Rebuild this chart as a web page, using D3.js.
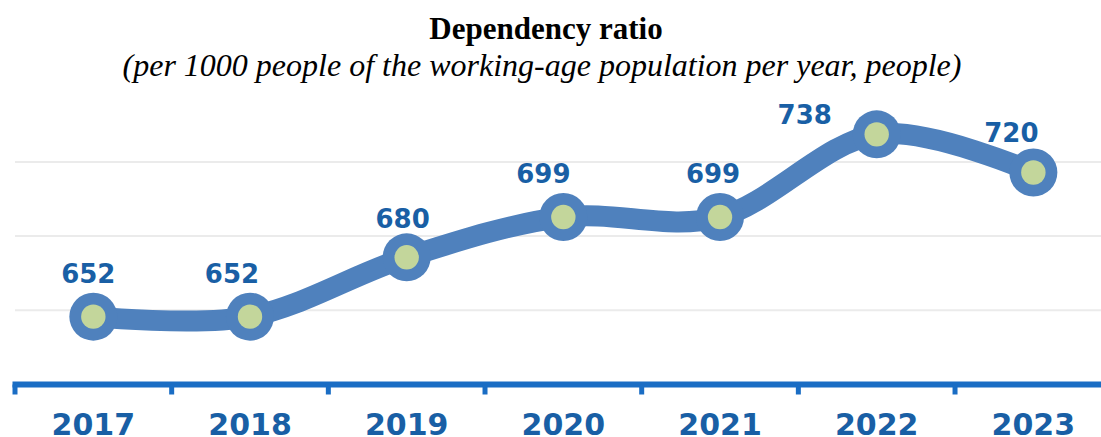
<!DOCTYPE html>
<html>
<head>
<meta charset="utf-8">
<script src="https://cdn.jsdelivr.net/npm/d3@7"></script>
<style>
  html, body { margin: 0; padding: 0; background: #ffffff; }
  svg { display: block; }
</style>
</head>
<body>
<svg id="chart" width="1101" height="437"></svg>
<script>
// Data
const years = ["2017", "2018", "2019", "2020", "2021", "2022", "2023"];
const ratios = [652, 652, 680, 699, 699, 738, 720];
const gridValues = [655, 690, 725];

// Label placement nudges (dx, dy relative to each marker centre)
const labelNudge = [[-5, -34], [-18, -34], [-4, -29], [-20, -34], [-7, -34], [-72, -10], [-22, -31]];

const svg = d3.select("#chart");
const W = 1101, H = 437;

const x = d3.scaleBand().domain(years).range([15, 1111.7]).padding(0);
const y = d3.scaleLinear().domain([620, 760]).range([384.5, 87.7]);
const cx = d => x(d) + x.bandwidth() / 2;

// Title
svg.append("text")
  .attr("x", 546).attr("y", 39)
  .attr("text-anchor", "middle")
  .style("font-family", "'Liberation Serif', 'Times New Roman', serif")
  .style("font-weight", "bold")
  .style("font-size", "31px")
  .attr("fill", "#000")
  .text("Dependency ratio");

svg.append("text")
  .attr("x", 542).attr("y", 76)
  .attr("text-anchor", "middle")
  .style("font-family", "'Liberation Serif', 'Times New Roman', serif")
  .style("font-style", "italic")
  .style("font-size", "32px")
  .attr("fill", "#000")
  .text("(per 1000 people of the working-age population per year, people)");

// Gridlines
svg.append("g").selectAll("line")
  .data(gridValues)
  .join("line")
  .attr("x1", 15).attr("x2", W)
  .attr("y1", d => y(d)).attr("y2", d => y(d))
  .attr("stroke", "#ebebeb")
  .attr("stroke-width", 2);

// Category axis
const axisColor = "#1a6dc4";
const axis = d3.axisBottom(x)
  .tickSize(0)
  .tickPadding(0);
const gAxis = svg.append("g").attr("transform", `translate(0,${y(620)})`).call(axis);
gAxis.select(".domain").remove();
gAxis.selectAll(".tick line").remove();
gAxis.selectAll(".tick text")
  .attr("y", 50)
  .attr("dy", null)
  .style("font-family", "'DejaVu Sans', Verdana, sans-serif")
  .style("font-weight", "bold")
  .style("font-size", "30px")
  .attr("fill", "#195fa5");

gAxis.append("line")
  .attr("x1", 12.5).attr("x2", W)
  .attr("y1", 0).attr("y2", 0)
  .attr("stroke", axisColor)
  .attr("stroke-width", 6);

// Tick marks on category boundaries
const bounds = years.map(d => x(d));
gAxis.selectAll(".bound")
  .data(bounds)
  .join("line")
  .attr("class", "bound")
  .attr("x1", d => d).attr("x2", d => d)
  .attr("y1", 0).attr("y2", 10)
  .attr("stroke", axisColor)
  .attr("stroke-width", 5);

// Smoothed line
const line = d3.line()
  .x((d, i) => cx(years[i]))
  .y(d => y(d))
  .curve(d3.curveCardinal.tension(0));

svg.append("path")
  .datum(ratios)
  .attr("d", line)
  .attr("fill", "none")
  .attr("stroke", "#4f81bd")
  .attr("stroke-width", 21)
  .attr("stroke-linecap", "round")
  .attr("stroke-linejoin", "round");

// Markers
const markers = svg.append("g").selectAll("g")
  .data(ratios)
  .join("g")
  .attr("transform", (d, i) => `translate(${cx(years[i])},${y(d)})`);
markers.append("circle").attr("r", 24).attr("fill", "#4f81bd");
markers.append("circle").attr("r", 12.2).attr("fill", "#c3d69b");

// Data labels
svg.append("g").selectAll("text")
  .data(ratios)
  .join("text")
  .attr("x", (d, i) => cx(years[i]) + labelNudge[i][0])
  .attr("y", (d, i) => y(d) + labelNudge[i][1])
  .attr("text-anchor", "middle")
  .style("font-family", "'DejaVu Sans', Verdana, sans-serif")
  .style("font-weight", "bold")
  .style("font-size", "26px")
  .attr("fill", "#195fa5")
  .text(d => d);
</script>
</body>
</html>
